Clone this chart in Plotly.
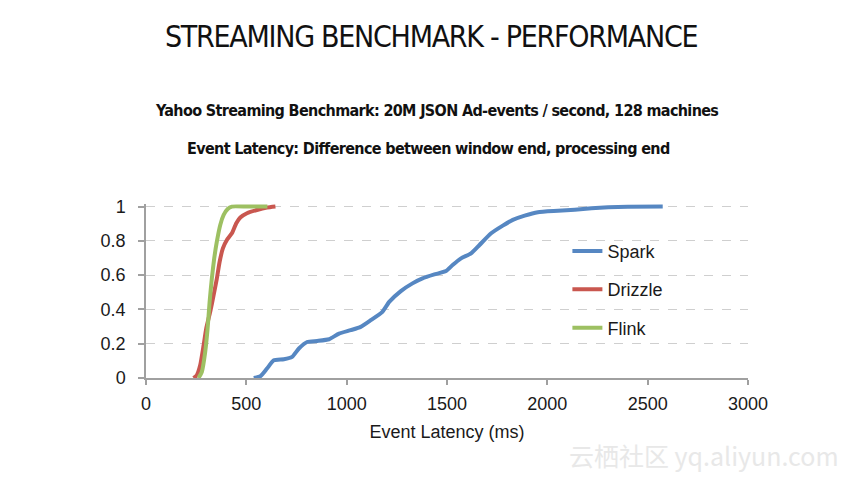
import plotly.graph_objects as go

# ---- data ----
spark_x = [537, 570, 603, 637, 687, 728, 762, 803, 853, 912, 962, 1020, 1070, 1120, 1178, 1212,
           1270, 1328, 1378, 1437, 1495, 1528, 1570, 1620, 1662, 1720, 1778, 1828, 1887, 1953,
           2053, 2137, 2220, 2303, 2400, 2575]
spark_y = [0.0, 0.01, 0.055, 0.103, 0.109, 0.123, 0.172, 0.21, 0.216, 0.226, 0.259, 0.279, 0.298,
           0.337, 0.386, 0.444, 0.507, 0.552, 0.581, 0.604, 0.624, 0.659, 0.698, 0.727, 0.776,
           0.844, 0.889, 0.922, 0.947, 0.967, 0.975, 0.982, 0.99, 0.996, 0.999, 1.0]

drizzle_x = [237, 253, 270, 287, 300, 320, 337, 353, 367, 383, 403, 428, 450, 470, 503, 553, 603, 645]
drizzle_y = [0.0, 0.016, 0.074, 0.19, 0.288, 0.386, 0.483, 0.58, 0.678, 0.756, 0.805, 0.844,
             0.903, 0.936, 0.961, 0.98, 0.994, 1.0]

flink_x = [262, 278, 295, 307, 317, 328, 340, 353, 370, 387, 407, 428, 503, 605]
flink_y = [0.0, 0.035, 0.152, 0.288, 0.444, 0.58, 0.698, 0.795, 0.893, 0.951, 0.986, 1.0, 1.0, 1.0]

x_ticks = [0, 500, 1000, 1500, 2000, 2500, 3000]
y_ticks = [0, 0.2, 0.4, 0.6, 0.8, 1]
y_tick_labels = ["0", "0.2", "0.4", "0.6", "0.8", "1"]

title = "STREAMING BENCHMARK - PERFORMANCE"
subtitle1 = "Yahoo Streaming Benchmark: 20M JSON Ad-events / second, 128 machines"
subtitle2 = "Event Latency: Difference between window end, processing end"
x_title = "Event Latency (ms)"
watermark = "云栖社区 yq.aliyun.com"

BASE = "Liberation Sans, Arial, Helvetica, sans-serif"
COND = "DejaVu Sans Condensed, DejaVu Sans, sans-serif"


def condensed(txt, bold=False, spacing=0.0):
    inner = "<b>" + txt + "</b>" if bold else txt
    return ('<span style="font-stretch:condensed;letter-spacing:%.2fpx">' % spacing) + inner + "</span>"


fig = go.Figure()
series = [("Spark", spark_x, spark_y, "#5687c2"),
          ("Drizzle", drizzle_x, drizzle_y, "#c9574f"),
          ("Flink", flink_x, flink_y, "#9dc062")]
for name, xs, ys, col in series:
    fig.add_trace(go.Scatter(x=xs, y=ys, mode="lines", name=name, legendgroup=name,
                             line=dict(color=col, width=4, shape="spline", smoothing=0.5)))

L, R, T, B = 146, 110, 204, 102
W, H = 858, 480
pw = W - L - R
ph = H - T - B


def px_x(p):
    return (p - L) / pw


def px_y(p):
    return (H - B - p) / ph


fig.update_layout(
    width=W, height=H,
    margin=dict(l=L, r=R, t=T, b=B),
    paper_bgcolor="white", plot_bgcolor="white",
    font=dict(family=BASE, size=18, color="#1a1a1a"),
    showlegend=True,
    legend=dict(x=0.7000, y=0.835, xanchor="left", yanchor="top",
                bgcolor="rgba(0,0,0,0)", tracegroupgap=12,
                font=dict(family=BASE, size=18, color="#1a1a1a")),
    xaxis=dict(range=[0, 3000], tickvals=x_ticks, showgrid=False, zeroline=False,
               showline=True, linecolor="#a0a0a0", linewidth=1.5,
               ticks="outside", ticklen=5, tickcolor="#a0a0a0", tickwidth=1.5,
               ticklabelstandoff=4,
               title=dict(text=x_title, standoff=12, font=dict(size=18))),
    yaxis=dict(range=[0, 1.015], tickvals=y_ticks, ticktext=y_tick_labels,
               showgrid=True, gridcolor="#cfcfcf", griddash="dash", gridwidth=1,
               zeroline=False, showline=True, linecolor="#a0a0a0", linewidth=1.5,
               ticks="outside", ticklen=6, tickcolor="#a0a0a0", tickwidth=1.5,
               ticklabelstandoff=9),
    annotations=[
        dict(text=condensed(title, spacing=-1.27), x=px_x(431), y=px_y(36), xref="paper", yref="paper",
             showarrow=False, xanchor="center", yanchor="middle",
             font=dict(family=COND, size=30, color="#111")),
        dict(text=condensed(subtitle1, True, -0.65), x=px_x(436), y=px_y(110), xref="paper", yref="paper",
             showarrow=False, xanchor="center", yanchor="middle",
             font=dict(family=COND, size=16, color="#111")),
        dict(text=condensed(subtitle2, True, -0.65), x=px_x(428), y=px_y(148), xref="paper", yref="paper",
             showarrow=False, xanchor="center", yanchor="middle",
             font=dict(family=COND, size=16, color="#111")),
        dict(text=watermark, x=px_x(704), y=px_y(455), xref="paper", yref="paper", showarrow=False,
             xanchor="center", yanchor="middle",
             font=dict(family="Noto Sans CJK SC, sans-serif", size=25, color="#e8e8e8")),
    ],
)

fig.write_html("out.html", config={"displayModeBar": False},
               post_script="document.body.style.margin='0';")
